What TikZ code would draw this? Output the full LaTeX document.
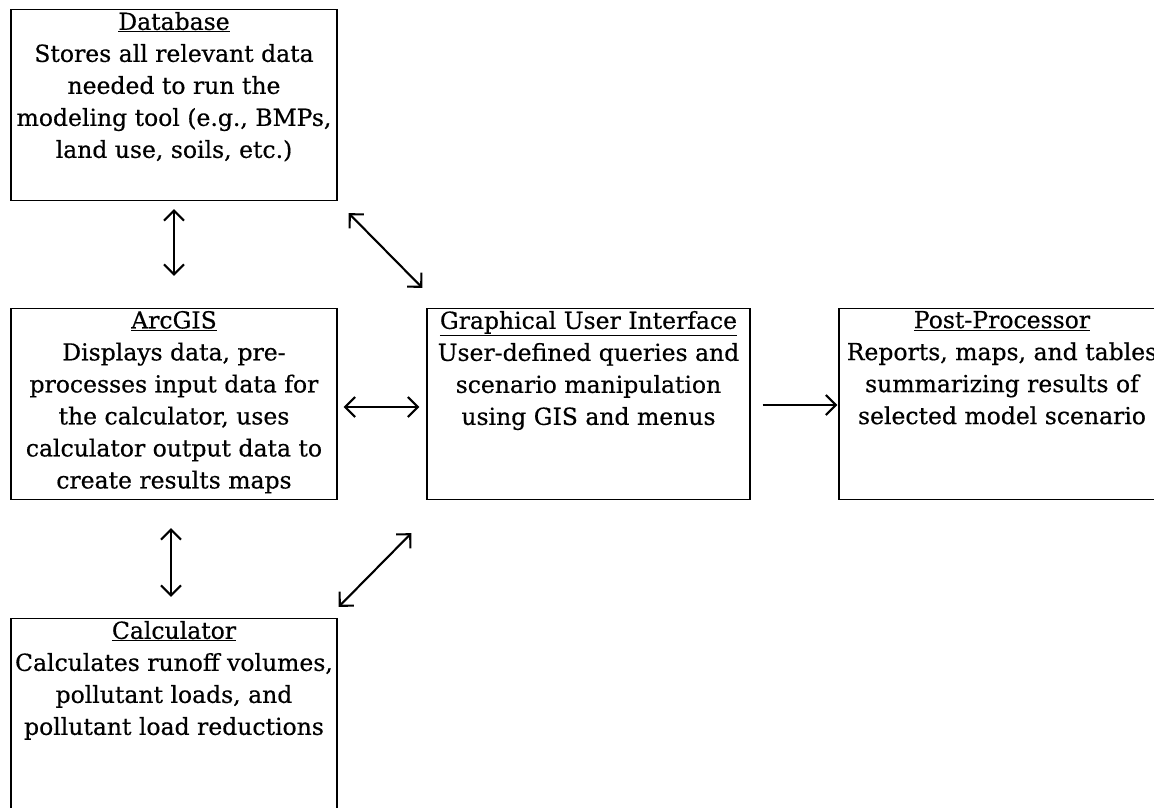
\documentclass[tikz,border=0pt]{standalone}
\usepackage{fontspec}
\setmainfont{DejaVu Serif}
\newfontfamily\boxfont{DejaVu Serif}[FakeBold=0.5]
\usetikzlibrary{arrows.meta,positioning}

\begin{document}
\begin{tikzpicture}[
  x=1pt, y=1pt,
  >={Straight Barb[length=10pt, width=20pt]},
  box/.style={draw, line width=1.4pt, minimum width=326pt, minimum height=191pt, inner sep=0pt},
  txt/.style={font=\boxfont\fontsize{23.5}{32}\selectfont, align=center, inner sep=0pt},
  both/.style={<->, line width=2.1pt},
  flow/.style={->, line width=2.1pt},
]
  \useasboundingbox (0,0) rectangle (1154,-807);
  \clip (0,0) rectangle (1154,-807);

  \node[box] (db)   at (174,-105)   {};
  \node[box] (arc)  at (174,-404)   {};
  \node[box, minimum width=323pt] (gui) at (588.5,-404) {};
  \node[box] (post) at (1002,-404)  {};
  \node[box] (calc) at (174,-714)   {};

  \node[txt, below=3pt of db.north] (dbtxt) {\underline{Database}\\Stores all relevant data\\needed to run the\\modeling tool (e.g., BMPs,\\land use, soils, etc.)};
  \node[txt, below=3pt of arc.north] (arctxt) {\underline{ArcGIS}\\Displays data, pre-\\processes input data for\\the calculator, uses\\calculator output data to\\create results maps};
  \node[txt, below=3pt of gui.north] (guitxt) {\underline{Graphical User Interface}\\User-defined queries and\\scenario manipulation\\using GIS and menus};
  \node[txt, below=3pt of post.north] (posttxt) {\underline{Post-Processor}\\Reports, maps, and tables\\summarizing results of\\selected model scenario};
  \node[txt, below=3pt of calc.north] (calctxt) {\underline{Calculator}\\Calculates runoff volumes,\\pollutant loads, and\\pollutant load reductions};

  % links between the parts of the tool
  \draw[both] ([yshift=-8pt]db.south) -- ([yshift=32pt]arc.north);
  \draw[both] ([shift={(11pt,-12pt)}]db.south east) -- ([shift={(-4pt,20pt)}]gui.north west);
  \draw[both] ([shift={(6pt,-3pt)}]arc.east) -- ([shift={(-7pt,-3pt)}]gui.west);
  \draw[flow] ([shift={(12pt,-1pt)}]gui.east) -- ([shift={(-1pt,-1pt)}]post.west);
  \draw[both] ([shift={(-3pt,-28pt)}]arc.south) -- ([shift={(-3pt,21pt)}]calc.north);
  \draw[both] ([shift={(-15pt,-33pt)}]gui.south west) -- ([shift={(1pt,11pt)}]calc.north east);
\end{tikzpicture}
\end{document}
